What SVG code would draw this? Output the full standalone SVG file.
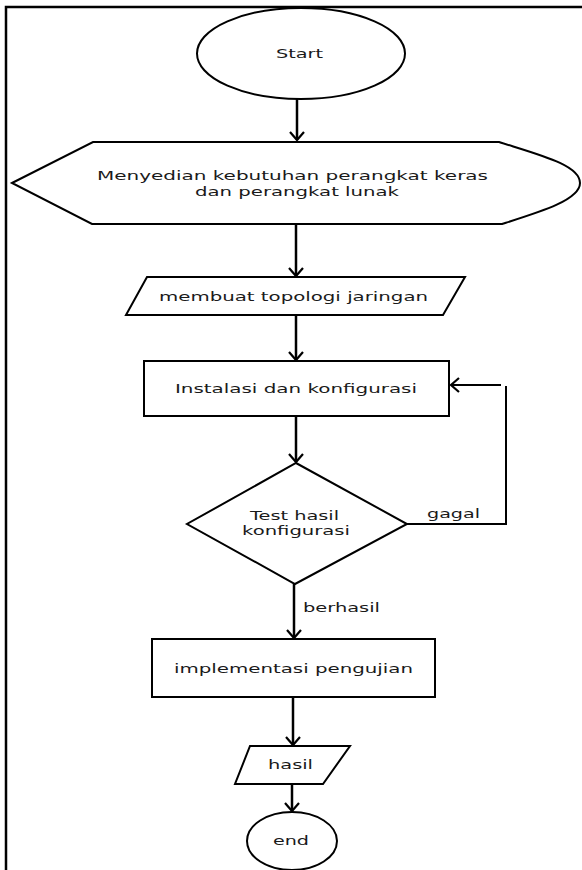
<svg xmlns="http://www.w3.org/2000/svg" width="582" height="870" viewBox="0 0 582 870">
<style>
.shape{fill:#fff;stroke:#000;stroke-width:2}
.conn{fill:none;stroke:#000;stroke-width:2.5}
.thin{fill:none;stroke:#000;stroke-width:2}
text{font-family:"DejaVu Sans","Liberation Sans",sans-serif;font-size:13px;fill:#1a1a1a;text-anchor:middle}
</style>
<defs>
<marker id="arr" markerUnits="userSpaceOnUse" markerWidth="16" markerHeight="16" viewBox="0 0 16 16" refX="11" refY="8" orient="auto">
<path d="M3,1 L11,8 L3,15" fill="none" stroke="#000" stroke-width="2.2"/>
</marker>
</defs>
<rect width="582" height="870" fill="#fff"/>
<g id="frame"><path d="M6,870 L6,7 L582,7" fill="none" stroke="#000" stroke-width="2.5"/></g>
<g id="connectors">
<line class="conn" x1="297" y1="99" x2="297" y2="140" marker-end="url(#arr)"/>
<line class="conn" x1="296" y1="224" x2="296" y2="276" marker-end="url(#arr)"/>
<line class="conn" x1="296" y1="315" x2="296" y2="360" marker-end="url(#arr)"/>
<line class="conn" x1="296" y1="416" x2="296" y2="462" marker-end="url(#arr)"/>
<line class="conn" x1="294" y1="584" x2="294" y2="638" marker-end="url(#arr)"/>
<line class="conn" x1="293" y1="697" x2="293" y2="745" marker-end="url(#arr)"/>
<line class="conn" x1="292" y1="784" x2="292" y2="811" marker-end="url(#arr)"/>
<path class="thin" d="M407,524 L506,524 L506,386"/>
<line class="thin" x1="501" y1="385" x2="451" y2="385" marker-end="url(#arr)"/>
<text x="453.5" y="518" textLength="53" lengthAdjust="spacingAndGlyphs">gagal</text>
<text x="341.5" y="612" textLength="77" lengthAdjust="spacingAndGlyphs">berhasil</text>
</g>
<g id="start">
<ellipse class="shape" cx="301" cy="53.5" rx="104" ry="45.5"/>
<text x="299.5" y="58" textLength="47" lengthAdjust="spacingAndGlyphs">Start</text>
</g>
<g id="prepare">
<path class="shape" d="M12,183 L93,142 L499,142 C540,155 580,165 580,183 C580,200 540,212 502,224 L92,224 Z"/>
<text x="292.5" y="180" textLength="391" lengthAdjust="spacingAndGlyphs">Menyedian kebutuhan perangkat keras</text>
<text x="297" y="196" textLength="204" lengthAdjust="spacingAndGlyphs">dan perangkat lunak</text>
</g>
<g id="topologi">
<path class="shape" d="M147,277 L465,277 L443,315 L126,315 Z"/>
<text x="293.5" y="301" textLength="269" lengthAdjust="spacingAndGlyphs">membuat topologi jaringan</text>
</g>
<g id="instalasi">
<rect class="shape" x="144" y="361" width="305" height="55"/>
<text x="296" y="393" textLength="242" lengthAdjust="spacingAndGlyphs">Instalasi dan konfigurasi</text>
</g>
<g id="test">
<path class="shape" d="M296,463 L407,524 L295,584 L187,524 Z"/>
<text x="294.5" y="520" textLength="89" lengthAdjust="spacingAndGlyphs">Test hasil</text>
<text x="296" y="535" textLength="108" lengthAdjust="spacingAndGlyphs">konfigurasi</text>
</g>
<g id="implementasi">
<rect class="shape" x="152" y="639" width="283" height="58"/>
<text x="293.5" y="673" textLength="239" lengthAdjust="spacingAndGlyphs">implementasi pengujian</text>
</g>
<g id="hasil">
<path class="shape" d="M250,746 L350,746 L323,784 L235,784 Z"/>
<text x="290.5" y="769" textLength="45" lengthAdjust="spacingAndGlyphs">hasil</text>
</g>
<g id="end">
<ellipse class="shape" cx="292" cy="841" rx="45" ry="29"/>
<text x="291" y="845" textLength="36" lengthAdjust="spacingAndGlyphs">end</text>
</g>
</svg>
